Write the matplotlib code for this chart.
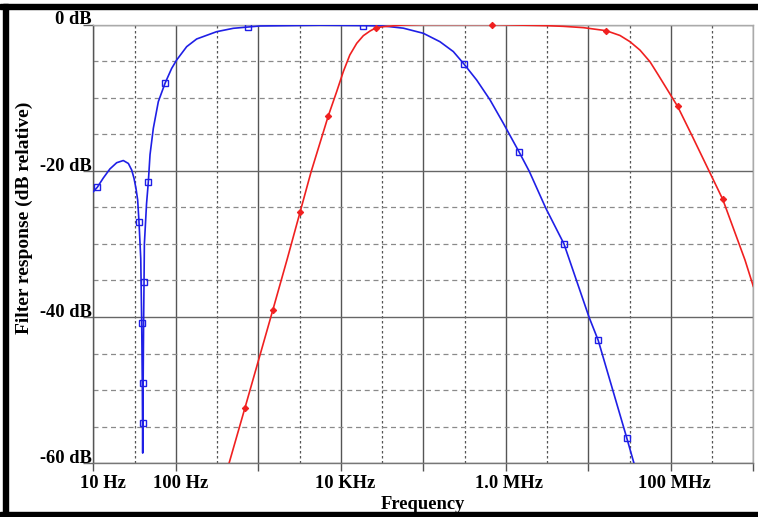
import matplotlib
matplotlib.use('Agg')
import matplotlib.pyplot as plt
import matplotlib.transforms as mtransforms
from matplotlib.patches import Rectangle
from matplotlib.ticker import FixedLocator, FixedFormatter, NullFormatter

# ---- data ----
blue_freq = [10, 11.18, 13.2, 15.9, 19.2, 23.1, 26.6, 29.2, 31.1, 32.9, 34.5, 35.8, 37.6, 38.6,
             39.3, 39.7, 39.9, 40.2, 40.7, 41.2, 41.6, 44.2, 46.4, 48.7, 53.4, 61.4, 74.0, 89.1,
             102.5, 135.5, 179, 313, 498, 756, 1047, 5600, 18700, 32700, 57200, 1.0e5, 1.59e5,
             2.31e5, 3.11e5, 4.44e5, 6.43e5, 9.33e5, 1.46e6, 1.93e6, 3.05e6, 5.07e6, 1.02e7,
             1.32e7, 2.92e7, 3.58e7]
blue_db = [-22.86, -22.26, -21.0, -19.75, -18.9, -18.6, -19.0, -19.9, -21.0, -22.4, -24.0, -27.0,
           -32.0, -40.8, -49.5, -58.6, -54.5, -49.0, -41.0, -35.2, -30.0, -24.5, -21.6, -17.8,
           -14.2, -10.55, -8.04, -6.0, -4.85, -3.03, -1.98, -0.98, -0.52, -0.34, -0.2, -0.1,
           -0.15, -0.2, -0.5, -1.2, -2.35, -3.7, -5.4, -7.6, -10.3, -13.5, -17.5, -20.1,
           -25.1, -30.0, -40.0, -43.2, -56.5, -60.0]
blue_marker_freq = [11.18, 35.8, 41.2, 38.6, 40.2, 39.9, 46.4, 74.0, 756, 18700, 3.11e5, 1.46e6,
                    5.07e6, 1.32e7, 2.92e7]
blue_marker_db = [-22.26, -27.0, -35.2, -40.8, -49.0, -54.5, -21.6, -8.04, -0.34, -0.15, -5.4,
                  -17.5, -30.0, -43.2, -56.5]

red_freq = [442, 690, 1495, 2250, 3200, 4350, 6030, 7050, 8900, 10720, 12860, 15600, 18750,
            22600, 26700, 32700, 57200, 1.0e5, 6.75e5, 3.13e6, 4.98e6, 8.7e6, 1.64e7, 2.42e7,
            3.2e7, 4.23e7, 5.6e7, 7.05e7, 1.21e8, 1.79e8, 2.93e8, 4.26e8, 7.93e8, 1.0e9]
red_db = [-60.0, -52.4, -39.1, -32.0, -25.7, -20.2, -15.0, -12.5, -9.2, -6.45, -4.17, -2.57,
          -1.53, -0.89, -0.45, -0.3, -0.07, 0.0, 0.0, -0.16, -0.25, -0.43, -0.84, -1.5,
          -2.35, -3.5, -5.1, -6.9, -11.2, -15.1, -20.1, -23.9, -32.2, -35.8]
red_marker_freq = [690, 1495, 3200, 7050, 26700, 6.75e5, 1.64e7, 1.21e8, 4.26e8]
red_marker_db = [-52.4, -39.1, -25.7, -12.5, -0.45, 0.0, -0.84, -11.2, -23.9]

xtick_values = [10, 100, 1e3, 1e4, 1e5, 1e6, 1e7, 1e8, 1e9]
xtick_labels = ['10 Hz', '100 Hz', '', '10 KHz', '', '1.0 MHz', '', '100 MHz', '']
xminor_values = [10 ** (k + 0.5) for k in range(1, 9)]
ytick_values = [0, -20, -40, -60]
ytick_labels = ['0 dB', '-20 dB', '-40 dB', '-60 dB']
yminor_values = [-5, -10, -15, -25, -30, -35, -45, -50, -55]

# ---- style ----
plt.rcParams['font.family'] = ['Liberation Serif', 'DejaVu Serif']
plt.rcParams['font.weight'] = 'bold'
FS = 13.3

fig = plt.figure(figsize=(7.58, 5.17), dpi=100)
ax = fig.add_axes([93.3 / 758, 1 - 463.3 / 517, 660 / 758, 438.8 / 517])

ax.set_xscale('log')
ax.set_xlim(10, 1e9)
ax.set_ylim(-60, 0)

ax.xaxis.set_major_locator(FixedLocator(xtick_values))
ax.xaxis.set_major_formatter(FixedFormatter(xtick_labels))
ax.xaxis.set_minor_locator(FixedLocator(xminor_values))
ax.xaxis.set_minor_formatter(NullFormatter())
ax.yaxis.set_major_locator(FixedLocator(ytick_values))
ax.yaxis.set_major_formatter(FixedFormatter(ytick_labels))
ax.yaxis.set_minor_locator(FixedLocator(yminor_values))
ax.yaxis.set_minor_formatter(NullFormatter())

# grid
ax.grid(True, which='major', axis='x', color='#555555', lw=1.0, ls='-')
ax.grid(True, which='minor', axis='x', color='#555555', lw=0.9, ls=(0, (2, 2)))
ax.grid(True, which='major', axis='y', color='#666666', lw=1.0, ls='-')
ax.grid(True, which='minor', axis='y', color='#8a8a8a', lw=0.9, ls=(0, (4, 3)))
ax.set_axisbelow(True)

ax.tick_params(axis='x', which='major', length=6, width=1, color='#555555', pad=2.5,
               labelsize=FS)
ax.tick_params(axis='y', which='major', length=7.5, width=1, color='#666666', pad=-6.6,
               labelsize=FS)
ax.tick_params(which='minor', length=0)
for lab in ax.get_yticklabels():
    lab.set_verticalalignment('baseline')
    lab.set_fontweight('bold')
x_label_shift_px = [10, 5, 0, 4, 0, 3, 0, 4, 0]
for lab, dx in zip(ax.get_xticklabels(), x_label_shift_px):
    lab.set_fontweight('bold')
    lab.set_transform(lab.get_transform() +
                      mtransforms.ScaledTranslation(dx / 100, 0, fig.dpi_scale_trans))

for side, col in [('left', '#555555'), ('bottom', '#777777'), ('right', '#aaaaaa'), ('top', '#aaaaaa')]:
    ax.spines[side].set_color(col)
    ax.spines[side].set_linewidth(1.0)

# curves
ax.plot(blue_freq, blue_db, color='#1f1fe6', lw=1.2, zorder=3)
ax.plot(blue_marker_freq, blue_marker_db, ls='none', marker='s', ms=4.2, mfc='none',
        mec='#1f1fe6', mew=1.0, zorder=4)
ax.plot(red_freq, red_db, color='#f02020', lw=1.2, zorder=3)
ax.plot(red_marker_freq, red_marker_db, ls='none', marker='D', ms=3.2, mfc='#f02020',
        mec='#f02020', mew=0.8, zorder=4, clip_on=False)

ax.set_xlabel('Frequency', fontsize=FS, fontweight='bold')
ax.xaxis.set_label_coords(0.5, -0.075)
ax.set_ylabel('Filter response (dB relative)', fontsize=14, fontweight='bold')
ax.yaxis.set_label_coords(-0.092, 0.56)

# black frame bands (top, left, bottom)
fig.patches.append(Rectangle((0, 1 - 9 / 517), 1, 5 / 517, transform=fig.transFigure,
                             color='black', zorder=10))
fig.patches.append(Rectangle((3 / 758, 0), 5 / 758, 1 - 4 / 517, transform=fig.transFigure,
                             color='black', zorder=10))
fig.patches.append(Rectangle((0, 0), 1, 5 / 517, transform=fig.transFigure,
                             color='black', zorder=10))

fig.savefig('out.png', dpi=100)
